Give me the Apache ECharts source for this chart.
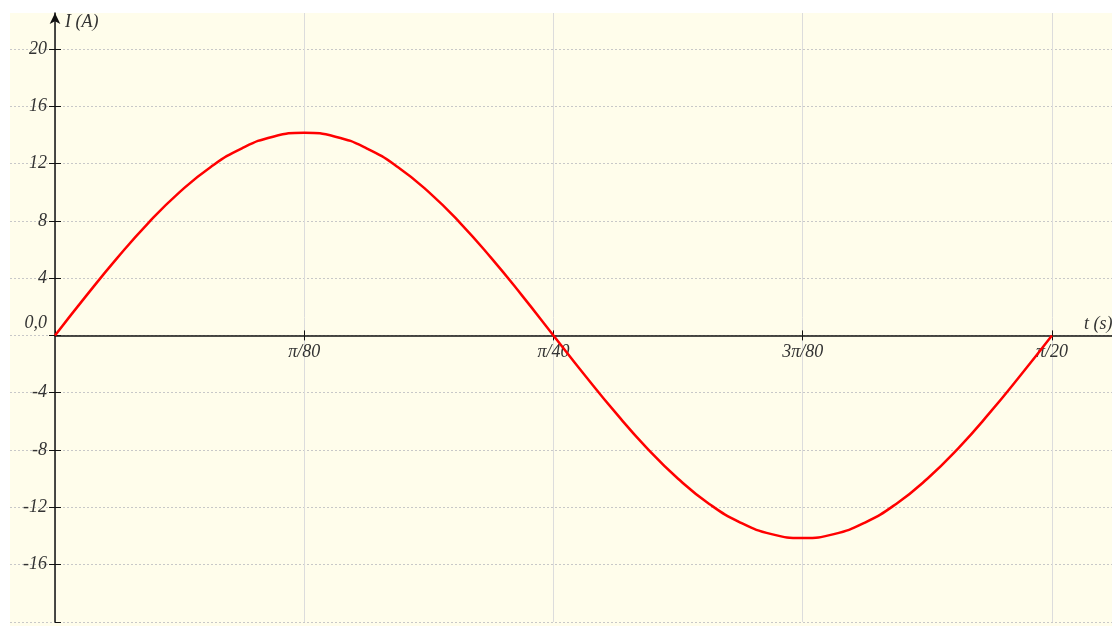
<!DOCTYPE html>
<html>
<head>
<meta charset="utf-8">
<script src="https://cdn.jsdelivr.net/npm/echarts@6/dist/echarts.min.js"></script>
<style>
  html, body { margin: 0; padding: 0; background: #ffffff; }
  #paper {
    position: absolute; left: 10px; top: 13px;
    width: 1102px; height: 613px;
    background: #fffdeb;
  }
  #chart { position: absolute; left: 0; top: 0; width: 1112px; height: 626px; }
</style>
</head>
<body>
<div id="paper"></div>
<div id="chart"></div>
<script>
// time in units of pi/80 seconds
var times = [0, 0.125, 0.25, 0.375, 0.5, 0.625, 0.75, 0.875,
  1, 1.125, 1.25, 1.375, 1.5, 1.625, 1.75, 1.875,
  2, 2.125, 2.25, 2.375, 2.5, 2.625, 2.75, 2.875,
  3, 3.125, 3.25, 3.375, 3.5, 3.625, 3.75, 3.875, 4];
// current I (A)
var current = [0, 2.76, 5.41, 7.86, 10.0, 11.76, 13.06, 13.87,
  14.14, 13.87, 13.06, 11.76, 10.0, 7.86, 5.41, 2.76,
  0, -2.76, -5.41, -7.86, -10.0, -11.76, -13.06, -13.87,
  -14.14, -13.87, -13.06, -11.76, -10.0, -7.86, -5.41, -2.76, 0];
var xTickLabels = ["", "π/80", "π/40", "3π/80", "π/20"];
var yTicks = [-20, -16, -12, -8, -4, 0, 4, 8, 12, 16, 20];
var xTicks = [0, 1, 2, 3, 4];

var serif = "Liberation Serif";
var yMin = -20, yMax = 22.5, xMax = 4.241;
var top0 = 13, bottom0 = 4;
// pixel row of I = 0, used to split the plot at the time axis
var zeroY = top0 + (626 - top0 - bottom0) * yMax / (yMax - yMin);

var chart = echarts.init(document.getElementById("chart"));
var points = times.map(function (t, i) { return [t, current[i]]; });

var labelFont = { fontFamily: serif, fontStyle: "italic", fontSize: 18, color: "#333" };
var dotted = { show: true, lineStyle: { color: "#c8c8c8", width: 1, type: [2, 2] } };
var tick = { show: true, length: 6, customValues: yTicks, lineStyle: { color: "#111" } };

var option = {
  animation: false,
  grid: [
    { left: 55, right: 0, top: top0, bottom: bottom0, outerBoundsMode: "none" },
    { left: 10, width: 45, top: top0, bottom: bottom0, outerBoundsMode: "none" },
    { left: 55, right: 0, top: top0, bottom: 626 - zeroY, outerBoundsMode: "none" },
    { left: 55, right: 0, top: zeroY, bottom: bottom0, outerBoundsMode: "none" }
  ],
  xAxis: [
    {
      type: "value", gridIndex: 0, min: 0, max: xMax, interval: 1,
      axisLine: { show: false, onZero: false },
      axisTick: { show: false, customValues: xTicks },
      axisLabel: { show: false },
      splitLine: { show: true, lineStyle: { color: "#dcdcdc", width: 1 } }
    },
    { type: "value", gridIndex: 1, min: 0, max: 1, show: false },
    {
      type: "value", gridIndex: 2, position: "bottom", min: 0, max: xMax, interval: 1,
      name: "t (s)",
      nameLocation: "end",
      nameGap: -28,
      nameTextStyle: Object.assign({ align: "left", verticalAlign: "bottom", padding: [0, 0, 2, 0] }, labelFont),
      axisLine: { onZero: false, lineStyle: { color: "#111", width: 1.5 } },
      axisTick: { show: true, length: 5, customValues: xTicks, lineStyle: { color: "#111" } },
      axisLabel: Object.assign({
        margin: 8, showMinLabel: false, showMaxLabel: false,
        formatter: function (v) {
          var i = Math.round(v);
          return Math.abs(v - i) < 1e-6 ? (xTickLabels[i] || "") : "";
        }
      }, labelFont),
      splitLine: { show: false }
    },
    {
      type: "value", gridIndex: 3, position: "top", min: 0, max: xMax, interval: 1,
      axisLine: { show: false, onZero: false },
      axisTick: { show: true, length: 5, customValues: xTicks, lineStyle: { color: "#111" } },
      axisLabel: { show: false },
      splitLine: { show: false }
    }
  ],
  yAxis: [
    {
      type: "value", gridIndex: 0, min: yMin, max: yMax, interval: 4,
      name: "I (A)",
      nameLocation: "end",
      nameGap: -9,
      nameTextStyle: Object.assign({ align: "left", verticalAlign: "middle", padding: [0, 0, 0, 10] }, labelFont),
      axisLine: {
        show: true, onZero: false,
        symbol: ["none", "arrow"], symbolSize: [8, 11],
        lineStyle: { color: "#111", width: 1.5 }
      },
      axisTick: tick,
      axisLabel: Object.assign({
        margin: 8, showMinLabel: false, showMaxLabel: false,
        formatter: function (v) {
          return v === 0 ? "{z|0,0}" : String(v);
        },
        rich: { z: Object.assign({ padding: [0, 0, 24, 0] }, labelFont) }
      }, labelFont),
      splitLine: dotted
    },
    {
      type: "value", gridIndex: 1, position: "right", min: yMin, max: yMax, interval: 4,
      axisLine: { show: false, onZero: false },
      axisTick: tick,
      axisLabel: { show: false },
      splitLine: dotted
    },
    { type: "value", gridIndex: 2, show: false },
    { type: "value", gridIndex: 3, show: false }
  ],
  series: [
    {
      type: "line",
      xAxisIndex: 0,
      yAxisIndex: 0,
      data: points,
      smooth: true,
      symbol: "none",
      lineStyle: { color: "#ff0000", width: 2.5 },
      z: 3
    }
  ]
};

chart.setOption(option);
</script>
</body>
</html>
